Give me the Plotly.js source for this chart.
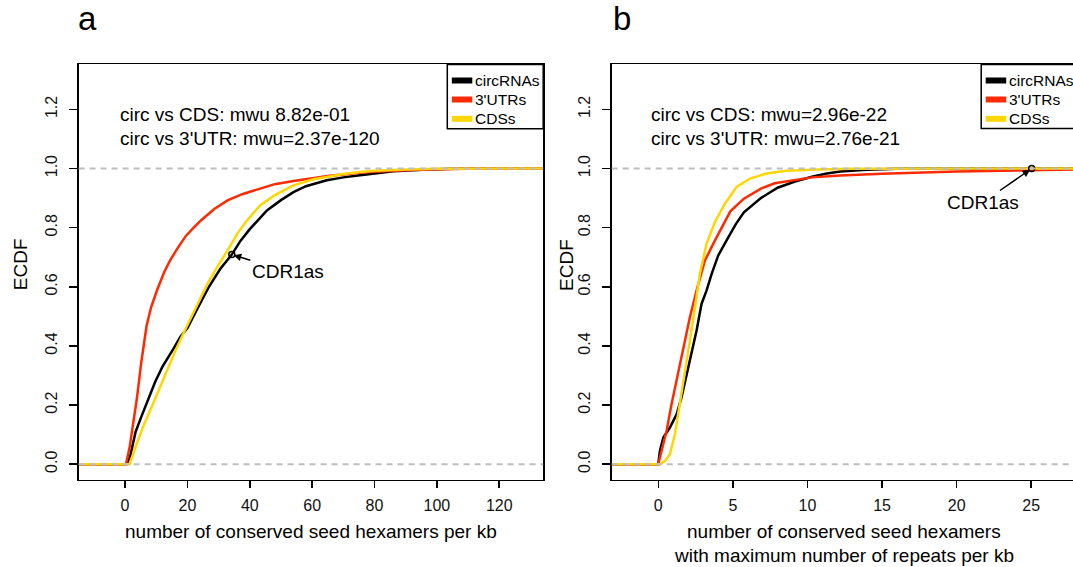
<!DOCTYPE html>
<html>
<head>
<meta charset="utf-8">
<script src="https://cdn.plot.ly/plotly-3.0.1.min.js"></script>
<style>
html, body { margin:0; padding:0; overflow:hidden; background:#fff; }
#chart { width:1080px; height:567px; }
</style>
</head>
<body>
<div id="chart"></div>
<script>
// ---------- data ----------
// Panel a: conserved seed hexamers per kb
const aCircX = [-15, 0.5, 1.7, 3.4, 5.2, 7.4, 9.7, 12, 13.8, 15.5, 17.7, 20, 22.9, 26.9, 30.5, 34.24, 37, 40, 45.5, 50, 54, 58, 64.7, 70, 75.4, 80, 86.1, 96.8, 105, 134];
const aCircY = [0, 0, 0.03, 0.11, 0.16, 0.22, 0.28, 0.33, 0.36, 0.39, 0.43, 0.46, 0.52, 0.60, 0.66, 0.709, 0.755, 0.795, 0.858, 0.893, 0.92, 0.94, 0.96, 0.97, 0.977, 0.984, 0.991, 0.997, 0.999, 1];
const aUtrX = [-15, 0.3, 1.5, 3, 3.8, 5.2, 6.9, 8.3, 10.3, 12.6, 14.5, 16.5, 19.5, 22, 24.5, 28.7, 33, 37.8, 43, 48, 54, 60, 65, 70, 75, 80, 92, 109, 134];
const aUtrY = [0, 0, 0.06, 0.17, 0.223, 0.345, 0.468, 0.529, 0.59, 0.651, 0.69, 0.725, 0.772, 0.80, 0.826, 0.864, 0.893, 0.914, 0.932, 0.947, 0.958, 0.968, 0.975, 0.98, 0.986, 0.989, 0.995, 0.999, 1];
const aCdsX = [-15, 1.5, 3.4, 5.7, 9.2, 12.6, 16, 19.5, 22.9, 26.4, 30, 33, 36, 39, 43.3, 48, 54, 60, 64.7, 70, 75.4, 80, 90, 100, 134];
const aCdsY = [0, 0, 0.06, 0.125, 0.21, 0.296, 0.38, 0.46, 0.535, 0.61, 0.675, 0.725, 0.78, 0.823, 0.875, 0.91, 0.943, 0.963, 0.971, 0.981, 0.988, 0.992, 0.997, 0.999, 1];
const aCdr1as = {x: 34.24, y: 0.709};

// Panel b: conserved seed hexamers with maximum number of repeats per kb
const bCircX = [-3.2, 0, 0.11, 0.34, 0.78, 1.23, 1.56, 1.9, 2.23, 2.57, 2.9, 3.24, 3.58, 4.02, 4.58, 5.2, 5.74, 6.88, 8.0, 9.16, 10.3, 11.3, 12.2, 14, 16, 25.0, 25.03, 28.5];
const bCircY = [0, 0, 0.045, 0.09, 0.124, 0.169, 0.226, 0.305, 0.373, 0.452, 0.542, 0.588, 0.644, 0.706, 0.757, 0.812, 0.852, 0.9, 0.935, 0.956, 0.972, 0.983, 0.99, 0.996, 0.999, 0.9995, 1, 1];
const bUtrX = [-3.2, 0, 0.22, 0.56, 0.89, 1.23, 1.68, 2.12, 2.57, 3.13, 3.69, 4.36, 4.83, 5.74, 6.88, 7.8, 9.16, 10.3, 12.2, 15, 20, 25, 28.5];
const bUtrY = [0, 0, 0.045, 0.113, 0.203, 0.282, 0.395, 0.497, 0.588, 0.689, 0.746, 0.81, 0.855, 0.898, 0.932, 0.95, 0.962, 0.97, 0.976, 0.982, 0.99, 0.995, 0.997];
const bCdsX = [-3.2, 0.11, 0.45, 0.78, 1.12, 1.45, 1.79, 2.12, 2.46, 2.79, 3.24, 3.8, 4.47, 5.25, 6.14, 7.26, 8.6, 10.6, 13, 28.5];
const bCdsY = [0, 0, 0.011, 0.034, 0.102, 0.203, 0.305, 0.418, 0.531, 0.644, 0.746, 0.819, 0.881, 0.938, 0.966, 0.983, 0.992, 0.997, 0.999, 1];
const bCdr1as = {x: 25.03, y: 1.0};

const seriesNames = ["circRNAs", "3'UTRs", "CDSs"];
const seriesColors = ["#000000", "#FF2A00", "#FFD700"];
const aStats = ["circ vs CDS: mwu 8.82e-01", "circ vs 3'UTR: mwu=2.37e-120"];
const bStats = ["circ vs CDS: mwu=2.96e-22", "circ vs 3'UTR: mwu=2.76e-21"];
const aXTicks = [0, 20, 40, 60, 80, 100, 120];
const bXTicks = [0, 5, 10, 15, 20, 25];
const yTicks = [0, 0.2, 0.4, 0.6, 0.8, 1.0, 1.2];
const yTickText = ["0.0", "0.2", "0.4", "0.6", "0.8", "1.0", "1.2"];
const aXTitle = "number of conserved seed hexamers per kb";
const bXTitle = ["number of conserved seed hexamers", "with maximum number of repeats per kb"];

// ---------- layout helpers ----------
const W = 1080, H = 567;
const px = X => X / W;
const py = Y => 1 - Y / H;
const FONT = "Liberation Sans, Arial, Helvetica, sans-serif";

const aDom = [78.6, 543.2], bDom = [611.7, 1076], yDom = [64.4, 479.6];

function lineTrace(x, y, color, xa, ya) {
  return {x: x, y: y, type: 'scatter', mode: 'lines', xaxis: xa, yaxis: ya,
          line: {color: color, width: 2.5}, showlegend: false, hoverinfo: 'skip'};
}
const traces = [
  lineTrace(aCircX, aCircY, seriesColors[0], 'x', 'y'),
  lineTrace(aUtrX, aUtrY, seriesColors[1], 'x', 'y'),
  lineTrace(aCdsX, aCdsY, seriesColors[2], 'x', 'y'),
  lineTrace(bCircX, bCircY, seriesColors[0], 'x2', 'y2'),
  lineTrace(bUtrX, bUtrY, seriesColors[1], 'x2', 'y2'),
  lineTrace(bCdsX, bCdsY, seriesColors[2], 'x2', 'y2'),
  {x: [aCdr1as.x], y: [aCdr1as.y], xaxis: 'x', yaxis: 'y', type: 'scatter', mode: 'markers',
   marker: {symbol: 'circle-open', size: 6, color: '#000', line: {width: 1.5, color: '#000'}}, showlegend: false},
  {x: [bCdr1as.x], y: [bCdr1as.y], xaxis: 'x2', yaxis: 'y2', type: 'scatter', mode: 'markers',
   marker: {symbol: 'circle-open', size: 6, color: '#000', line: {width: 1.5, color: '#000'}}, showlegend: false}
];

function xAxis(dom, range, ticks, anchor) {
  return {domain: [px(dom[0]), px(dom[1])], range: range, anchor: anchor,
    tickmode: 'array', tickvals: ticks, ticktext: ticks.map(String),
    ticks: 'outside', ticklen: 7, tickwidth: 1.5, tickcolor: '#000',
    showline: true, linecolor: '#000', linewidth: 1.5, mirror: true,
    showgrid: false, zeroline: false, fixedrange: true,
    tickfont: {family: FONT, size: 16, color: '#111'}, ticklabelstandoff: 4};
}
function yAxis(anchor) {
  return {domain: [py(yDom[1]), py(yDom[0])], range: [-0.052, 1.352], anchor: anchor,
    tickmode: 'array', tickvals: yTicks, ticktext: yTickText, tickangle: -90,
    ticks: 'outside', ticklen: 8, tickwidth: 1.5, tickcolor: '#000',
    showline: true, linecolor: '#000', linewidth: 1.5, mirror: true,
    showgrid: false, zeroline: false, fixedrange: true,
    tickfont: {family: FONT, size: 16, color: '#111'}, ticklabelstandoff: 6};
}

const shapes = [];
const annotations = [];
// gray 0/1 reference lines
[['x', 'y'], ['x2', 'y2']].forEach(([xa, ya]) => {
  [0, 1].forEach(v => shapes.push({type: 'line', xref: xa + ' domain', yref: ya, x0: 0, x1: 1, y0: v, y1: v,
    line: {color: '#BEBEBE', width: 2, dash: '6px,5px'}, layer: 'above'}));
});
// manual legends
function legend(left, right, top, bottom) {
  shapes.push({type: 'rect', xref: 'paper', yref: 'paper', x0: px(left), x1: px(right), y0: py(bottom), y1: py(top),
    line: {color: '#000', width: 1.5}, fillcolor: '#fff', layer: 'above'});
  const rows = [80.5, 99.5, 118.8];
  seriesNames.forEach((n, i) => {
    shapes.push({type: 'line', xref: 'paper', yref: 'paper', x0: px(left + 4.5), x1: px(left + 25),
      y0: py(rows[i]), y1: py(rows[i]), line: {color: seriesColors[i], width: 6}, layer: 'above'});
    annotations.push({xref: 'paper', yref: 'paper', x: px(left + 26), y: py(rows[i]), xanchor: 'left', yanchor: 'middle',
      text: n, showarrow: false, font: {family: FONT, size: 15.5, color: '#000'}});
  });
}
legend(447.3, 543.2, 64.4, 128.7);
legend(981.2, 1076, 64.4, 128.5);

// stats text
function stats(lines, xa, ya, x) {
  [1.183, 1.102].forEach((y, i) => annotations.push({xref: xa, yref: ya, x: x, y: y, xanchor: 'left', yanchor: 'middle',
    text: lines[i], showarrow: false, font: {family: FONT, size: 19, color: '#000'}}));
}
stats(aStats, 'x', 'y', -2.3);
stats(bStats, 'x2', 'y2', -0.64);

// CDR1as annotations
annotations.push({xref: 'x', yref: 'y', x: aCdr1as.x, y: aCdr1as.y, ax: 56, ay: 17, text: 'CDR1as',
  showarrow: true, arrowhead: 2, arrowsize: 1, arrowwidth: 1.5, arrowcolor: '#000', standoff: 2,
  font: {family: FONT, size: 19, color: '#000'}});
annotations.push({xref: 'x2', yref: 'y2', x: bCdr1as.x, y: bCdr1as.y, ax: -49, ay: 34, text: 'CDR1as',
  showarrow: true, arrowhead: 2, arrowsize: 1, arrowwidth: 1.5, arrowcolor: '#000', standoff: 2,
  font: {family: FONT, size: 19, color: '#000'}});

// axis titles
const titleFont = {family: FONT, size: 19, color: '#000'};
annotations.push({xref: 'paper', yref: 'paper', x: px(310.9), y: py(531.6), xanchor: 'center', yanchor: 'middle',
  text: aXTitle, showarrow: false, font: titleFont});
annotations.push({xref: 'paper', yref: 'paper', x: px(843.6), y: py(531.6), xanchor: 'center', yanchor: 'middle',
  text: bXTitle[0], showarrow: false, font: titleFont});
annotations.push({xref: 'paper', yref: 'paper', x: px(843.6), y: py(555.2), xanchor: 'center', yanchor: 'middle',
  text: bXTitle[1], showarrow: false, font: titleFont});
annotations.push({xref: 'paper', yref: 'paper', x: px(20.7), y: py(264.5), xanchor: 'center', yanchor: 'middle',
  text: 'ECDF', textangle: -90, showarrow: false, font: titleFont});
annotations.push({xref: 'paper', yref: 'paper', x: px(566.4), y: py(264.5), xanchor: 'center', yanchor: 'middle',
  text: 'ECDF', textangle: -90, showarrow: false, font: titleFont});

// panel letters
annotations.push({xref: 'paper', yref: 'paper', x: px(76), y: py(18), xanchor: 'left', yanchor: 'middle',
  text: 'a', showarrow: false, font: {family: FONT, size: 33, color: '#000'}});
annotations.push({xref: 'paper', yref: 'paper', x: px(611), y: py(18), xanchor: 'left', yanchor: 'middle',
  text: 'b', showarrow: false, font: {family: FONT, size: 33, color: '#000'}});

const layout = {
  width: W, height: H, autosize: false,
  margin: {l: 0, r: 0, t: 0, b: 0, pad: 0},
  paper_bgcolor: '#fff', plot_bgcolor: '#fff',
  font: {family: FONT, color: '#000'},
  showlegend: false,
  xaxis: xAxis(aDom, [-14.9, 134.1], aXTicks, 'y'),
  yaxis: yAxis('x'),
  xaxis2: xAxis(bDom, [-3.12, 28.0], bXTicks, 'y2'),
  yaxis2: yAxis('x2'),
  shapes: shapes,
  annotations: annotations
};

Plotly.newPlot('chart', traces, layout, {staticPlot: true, displayModeBar: false});
</script>
</body>
</html>
